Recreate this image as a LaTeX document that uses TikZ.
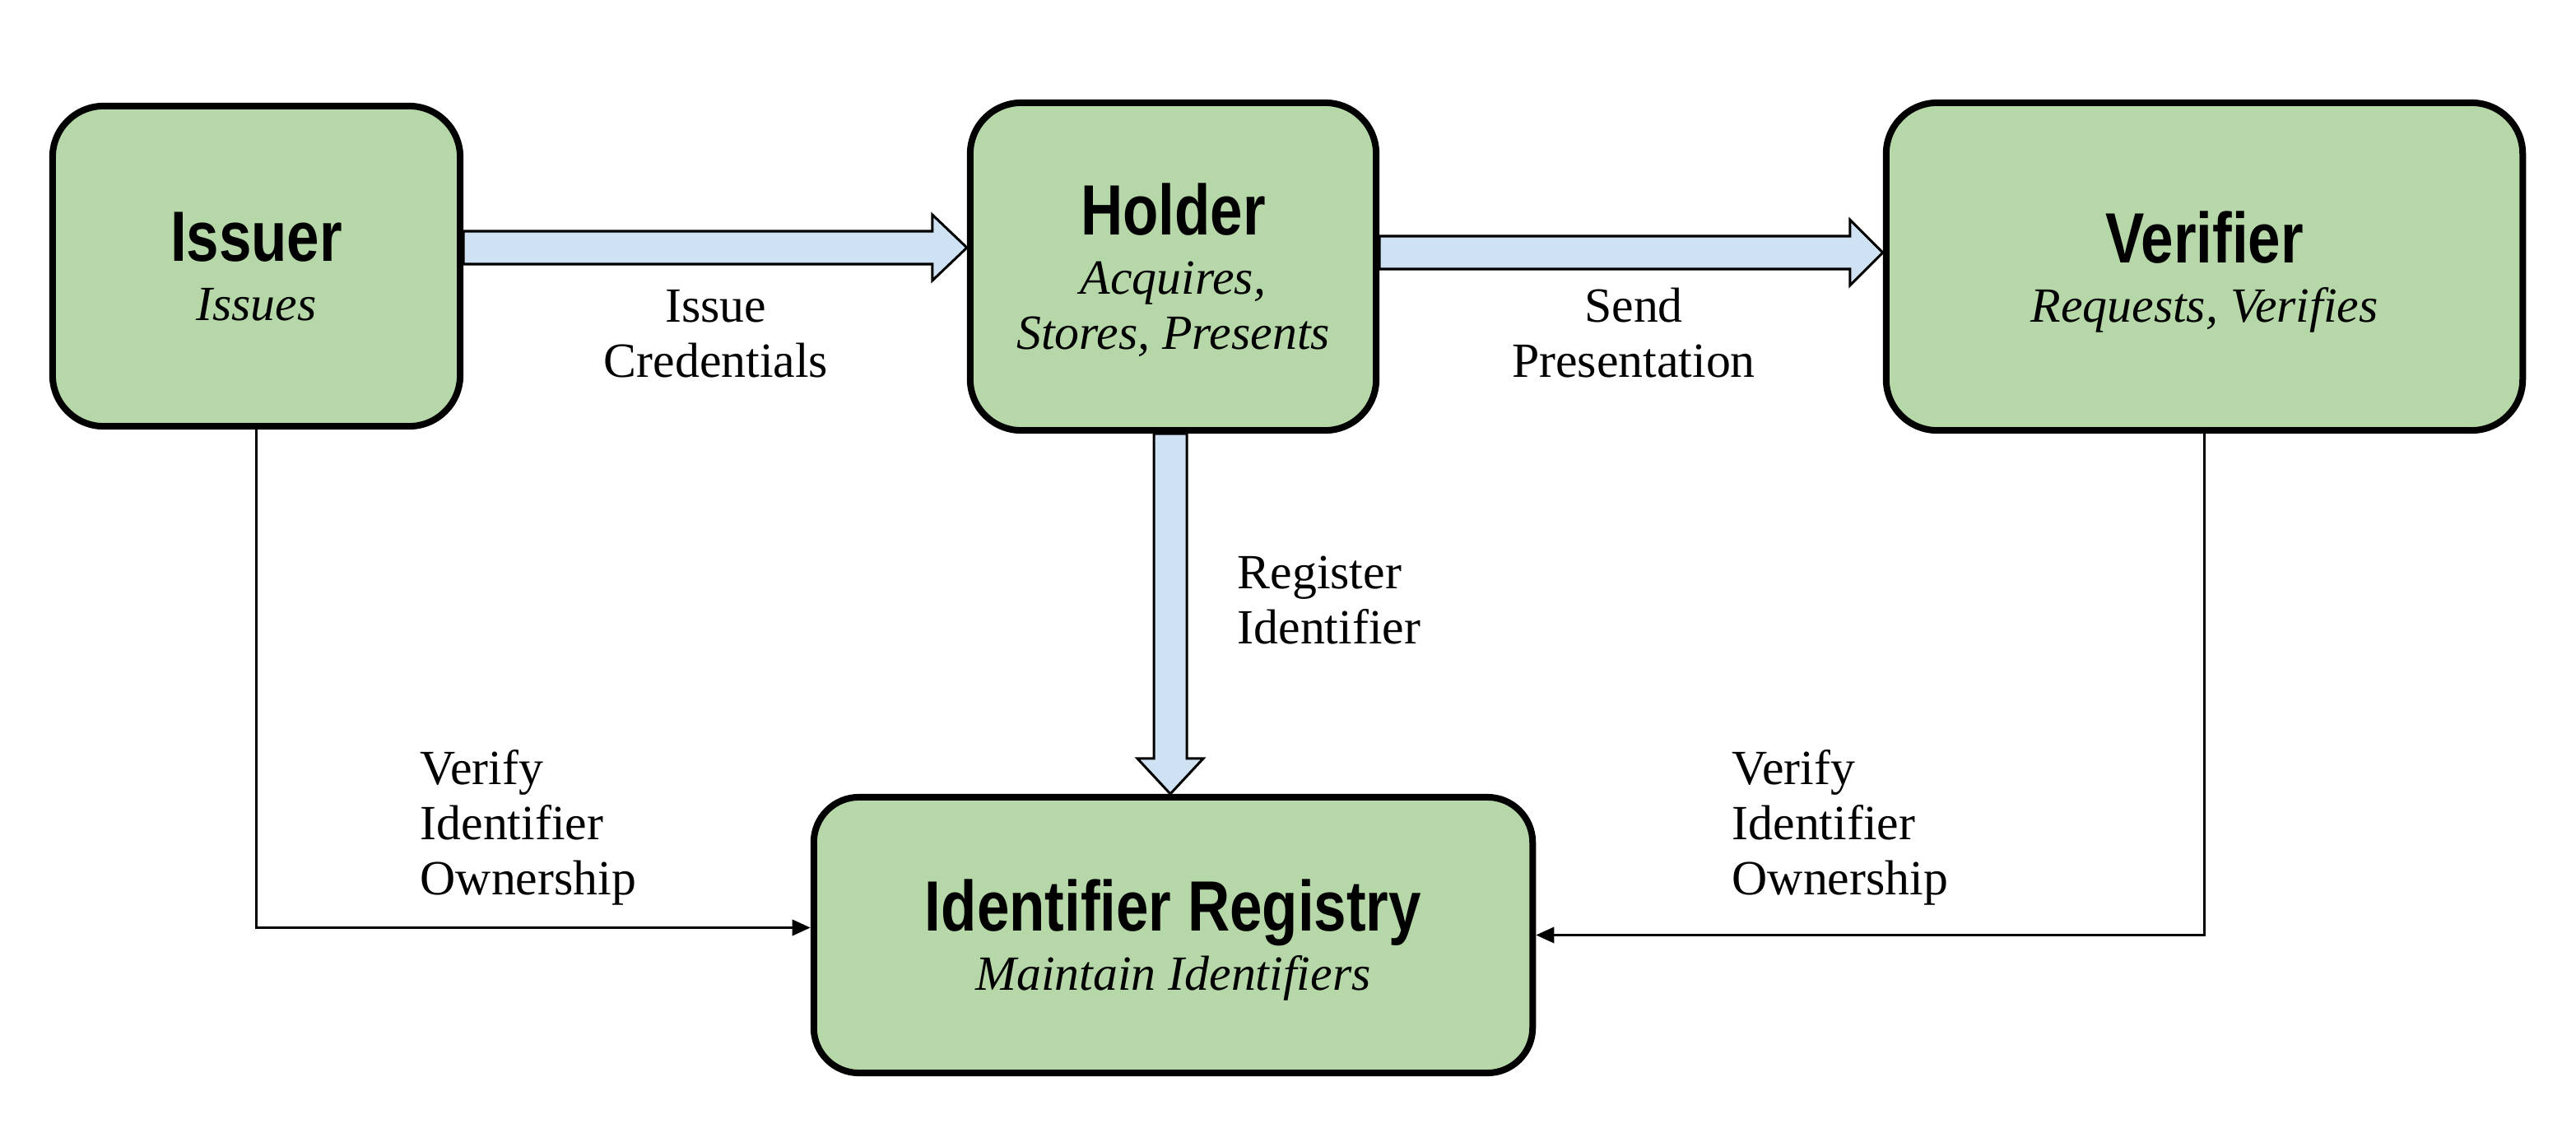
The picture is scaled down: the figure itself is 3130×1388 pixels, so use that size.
\documentclass[tikz,border=0pt]{standalone}
\usepackage{fontspec}
\setmainfont{Liberation Serif}
\newfontfamily\titlefont{Liberation Sans}[FakeStretch=0.82]
\usetikzlibrary{calc,arrows.meta}
\definecolor{boxgreen}{HTML}{B6D7A8}
\definecolor{arrowblue}{HTML}{CFE2F3}
\newcommand\ttlx[1]{{\titlefont\bfseries\fontsize{24.6}{19}\selectfont #1}}
\begin{document}
\begin{tikzpicture}[x=0.01cm,y=-0.01cm,
  actor/.style={draw=black, line width=0.08cm, fill=boxgreen, rounded corners=0.62cm,
    align=center, inner sep=0pt, text depth=0pt, font=\fontsize{17}{19}\selectfont},
  blockarrow/.style={draw=black, line width=0.03cm, fill=arrowblue, line join=miter},
  conn/.style={draw=black, line width=0.035cm, -{Triangle[length=0.22cm,width=0.19cm]}},
  lbl/.style={font=\fontsize{17}{19}\selectfont, inner sep=0pt}
]
\useasboundingbox (0,0) rectangle (3130,1388);

% boxes
\node[actor, minimum width=4.95cm, minimum height=3.89cm] (issuer) at (311.5,323.5)
  {\ttlx{Issuer}\\[1.5pt]\textit{Issues}};
\node[actor, minimum width=4.93cm, minimum height=3.98cm] (holder) at (1425.5,324)
  {\ttlx{Holder}\\[1.5pt]\textit{Acquires,}\\\textit{Stores, Presents}};
\node[actor, minimum width=7.73cm, minimum height=3.98cm] (verifier) at (2678.5,324)
  {\ttlx{Verifier}\\[1.5pt]\textit{Requests, Verifies}};
\node[actor, rounded corners=0.55cm, minimum width=8.73cm, minimum height=3.35cm] (registry) at (1425.5,1136.5)
  {\ttlx{Identifier Registry}\\[1.5pt]\textit{Maintain Identifiers}};

% block arrows
\draw[blockarrow] (issuer.east |- 0,281) -- ($(holder.west |- 0,281)+(-42,0)$)
  -- ($(holder.west |- 0,261)+(-42,0)$) -- (holder.west |- 0,301)
  -- ($(holder.west |- 0,341)+(-42,0)$) -- ($(holder.west |- 0,321)+(-42,0)$)
  -- (issuer.east |- 0,321) -- cycle;
\draw[blockarrow] (holder.east |- 0,287) -- ($(verifier.west |- 0,287)+(-40,0)$)
  -- ($(verifier.west |- 0,267)+(-40,0)$) -- (verifier.west |- 0,307)
  -- ($(verifier.west |- 0,347)+(-40,0)$) -- ($(verifier.west |- 0,327)+(-40,0)$)
  -- (holder.east |- 0,327) -- cycle;
\draw[blockarrow] (1402,0 |- holder.south) -- ($(1402,0 |- registry.north)+(0,-43)$)
  -- ($(1382,0 |- registry.north)+(0,-43)$) -- (1422,0 |- registry.north)
  -- ($(1462,0 |- registry.north)+(0,-43)$) -- ($(1442,0 |- registry.north)+(0,-43)$)
  -- (1442,0 |- holder.south) -- cycle;

% thin connectors
\draw[conn] (issuer.south) |- ($(registry.west)+(0,-9)$);
\draw[conn] (verifier.south) |- (registry.east);

% labels (anchor base = baseline of the last line)
\node[lbl, align=center, anchor=base] (lissue) at (870,458) {Issue\\Credentials};
\node[lbl, align=center, anchor=base] (lsend) at (1985,458) {Send\\Presentation};
\node[lbl, align=left, anchor=base west] (lreg) at (1503,782) {Register\\Identifier};
\node[lbl, align=left, anchor=base west] (lverl) at (510,1087) {Verify\\Identifier\\Ownership};
\node[lbl, align=left, anchor=base west] (lverr) at (2104,1087) {Verify\\Identifier\\Ownership};
\end{tikzpicture}
\end{document}
